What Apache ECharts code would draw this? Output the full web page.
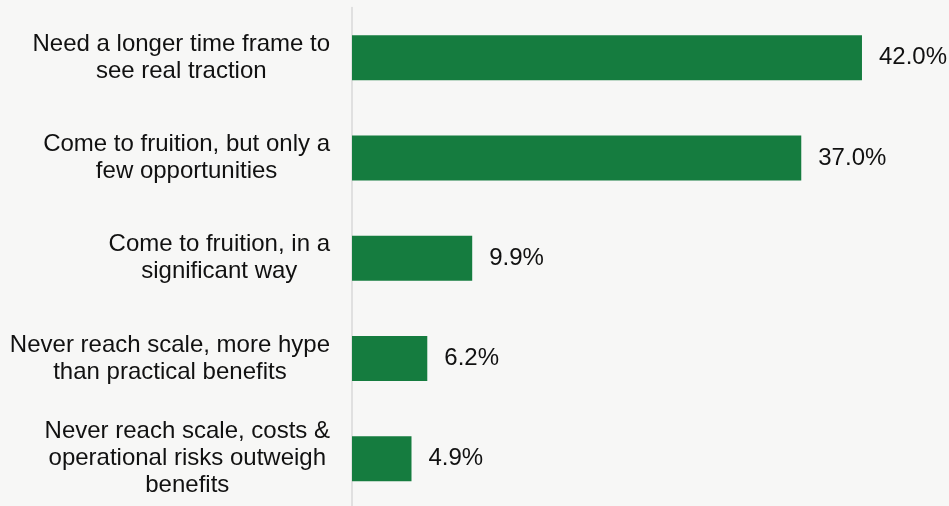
<!DOCTYPE html>
<html>
<head>
<meta charset="utf-8">
<script src="https://cdn.jsdelivr.net/npm/echarts@6/dist/echarts.min.js"></script>
<style>
html,body{margin:0;padding:0;background:#f7f7f6;overflow:hidden;}
#chart{width:949px;height:514px;}
</style>
</head>
<body>
<div id="chart"></div>
<script>
const categories = [
  'Need a longer time frame to\nsee real traction',
  'Come to fruition, but only a\nfew opportunities',
  'Come to fruition, in a\nsignificant way',
  'Never reach scale, more hype\nthan practical benefits',
  'Never reach scale, costs &\noperational risks outweigh\nbenefits'
];
const values = [42.0, 37.0, 9.9, 6.2, 4.9];

const FONT = "'Liberation Sans', Arial, Helvetica, sans-serif";
const chart = echarts.init(document.getElementById('chart'), null, {renderer: 'canvas'});
chart.setOption({
  backgroundColor: '#f7f7f6',
  animation: false,
  grid: {left: 352, top: 7.5, width: 546.4, height: 501.5, containLabel: false},
  xAxis: {
    type: 'value', min: 0, max: 45, show: false
  },
  yAxis: {
    type: 'category',
    data: categories,
    inverse: true,
    axisLine: {show: true, lineStyle: {color: '#d9d9d9', width: 1.5}},
    axisTick: {show: false},
    splitLine: {show: false},
    axisLabel: {
      margin: 22,
      formatter: function (v) {
        return v.split('\n').map(function (l) { return '{c|' + l + '}'; }).join('\n');
      },
      rich: {
        c: {align: 'center', fontSize: 24, lineHeight: 27, fontFamily: FONT, color: '#111111'}
      }
    }
  },
  series: [{
    type: 'bar',
    data: values,
    barWidth: 45,
    itemStyle: {color: '#157c3f'},
    label: {
      show: true,
      position: 'right',
      distance: 17,
      formatter: function (p) { return p.value.toFixed(1) + '%'; },
      fontSize: 24,
      fontFamily: FONT,
      color: '#111111'
    }
  }]
});
</script>
</body>
</html>
